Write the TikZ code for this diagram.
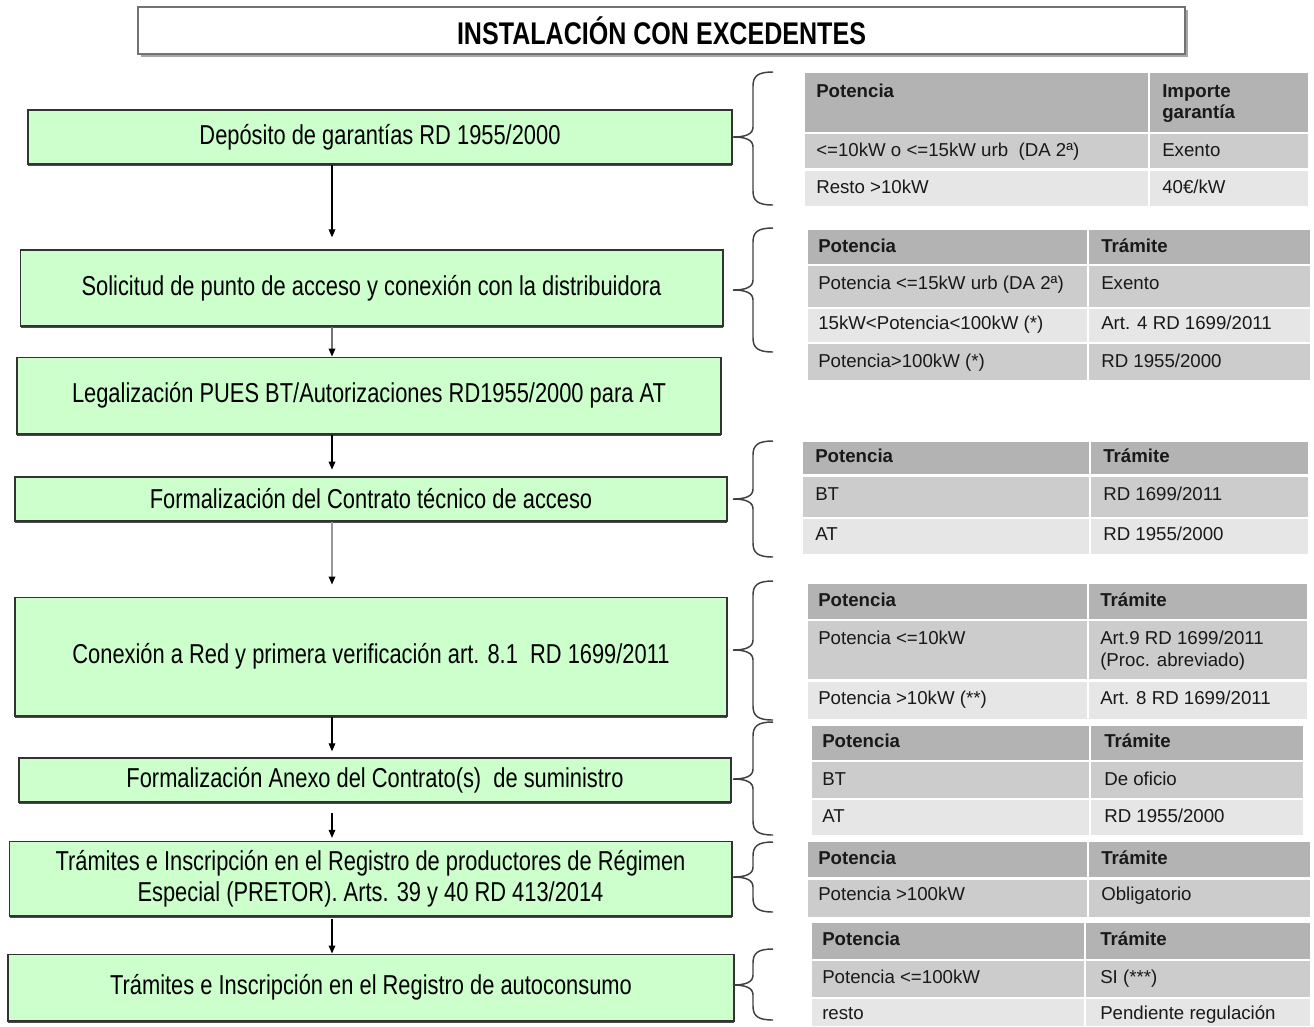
\documentclass[tikz,border=0pt]{standalone}
\usepackage{fontspec}
\setmainfont{Liberation Sans}
\newfontfamily\narrowsf[FakeStretch=0.8]{Liberation Sans}
\newfontfamily\titlesf[FakeStretch=0.8]{Liberation Sans}
\usetikzlibrary{arrows.meta,shadows}

\definecolor{boxgreen}{RGB}{204,255,204}
\definecolor{hdrgray}{RGB}{179,179,179}
\definecolor{rowdark}{RGB}{204,204,204}
\definecolor{rowlight}{RGB}{230,230,230}

% curly brace: top y, bottom y, tip y
\newcommand{\curlybrace}[3]{%
  \draw[brc] (773,#1) .. controls (758,#1) and (753,#1+4) .. (753,#1+14) -- (753,#3-10) .. controls (753,#3-3) and (746,#3) .. (733,#3) .. controls (746,#3) and (753,#3+3) .. (753,#3+10) -- (753,#2-14) .. controls (753,#2-4) and (758,#2) .. (773,#2) ;}

\begin{document}
\begin{tikzpicture}[x=0.75pt,y=0.75pt,yscale=-1,xscale=1,
  titlebox/.style={draw=black!55, line width=1.5pt, fill=white, inner sep=0pt, font=\titlesf\bfseries\fontsize{23.5}{26}\selectfont, drop shadow={shadow xshift=2pt, shadow yshift=-2pt, fill=black!35, opacity=1}},
  stepbox/.style={draw=black!80, line width=1pt, fill=boxgreen, inner sep=2pt, align=center, font=\narrowsf\fontsize{20.5}{23.5}\selectfont, drop shadow={shadow xshift=0.3pt, shadow yshift=-1.5pt, fill=black!70, opacity=1}},
  flow/.style={draw=black, line width=0.9pt, -{Triangle[length=6pt,width=5pt,color=black]}},
  brc/.style={draw=black!75, line width=1.1pt},
  hdr/.style={fill=hdrgray},
  rowa/.style={fill=rowdark},
  rowb/.style={fill=rowlight},
  celltxt/.style={anchor=base west, inner sep=0pt, text=black!90, font=\fontsize{14}{16}\selectfont},
  hdrtxt/.style={celltxt, font=\bfseries\fontsize{14}{16}\selectfont}
]
\useasboundingbox (0,0) rectangle (1314,1026);

% Title
\node[titlebox, minimum width=785pt, minimum height=35pt] (title) at (661.5,30.5) {INSTALACIÓN CON EXCEDENTES};

% Steps
\node[stepbox, minimum width=528pt, minimum height=40.5pt] (dep) at (380,137) {Depósito de garantías RD 1955/2000};
\node[stepbox, minimum width=527pt, minimum height=57pt] (sol) at (371.5,288) {Solicitud de punto de acceso y conexión con la distribuidora};
\node[stepbox, minimum width=528pt, minimum height=57.5pt] (leg) at (369,395.5) {Legalización PUES BT/Autorizaciones RD1955/2000 para AT};
\node[stepbox, minimum width=534pt, minimum height=33pt] (ctec) at (371,499) {Formalización del Contrato técnico de acceso};
\node[stepbox, minimum width=534pt, minimum height=89pt] (con) at (371,656.5) {Conexión a Red y primera verificación art. 8.1\ \ RD 1699/2011};
\node[stepbox, minimum width=534pt, minimum height=33pt] (anx) at (375,780) {Formalización Anexo del Contrato(s)\ \ de suministro};
\node[stepbox, minimum width=542pt, minimum height=56pt] (pretor) at (370.5,878.5) {Trámites e Inscripción en el Registro de productores de Régimen\\Especial (PRETOR). Arts. 39 y 40 RD 413/2014};
\node[stepbox, minimum width=544.5pt, minimum height=50pt] (autoc) at (371,987.5) {Trámites e Inscripción en el Registro de autoconsumo};

% Arrows
\coordinate (ax) at (332,0);
\draw[flow, shorten >=9pt] (dep.south -| ax) -- (sol.north -| ax);
\draw[flow, draw=black!55] (sol.south -| ax) -- (leg.north -| ax);
\draw[flow, shorten >=5pt] (leg.south -| ax) -- (ctec.north -| ax);
\draw[flow, draw=black!40, shorten >=9pt] (ctec.south -| ax) -- (con.north -| ax);
\draw[flow, shorten >=4.5pt] (con.south -| ax) -- (anx.north -| ax);
\draw[flow, shorten <=7.5pt, shorten >=2pt] (anx.south -| ax) -- (pretor.north -| ax);
\draw[flow, shorten <=2pt] (pretor.south -| ax) -- (autoc.north -| ax);

% Braces
\curlybrace{72}{205}{137}
\curlybrace{228}{352}{290}
\curlybrace{441}{557}{499}
\curlybrace{581}{720}{650}
\curlybrace{722}{835}{779}
\curlybrace{842}{912}{877}
\curlybrace{949}{1020}{985}

% Table 1
\fill[hdr] (805,73) rectangle (1148,132);
\fill[hdr] (1150,73) rectangle (1308,132);
\fill[rowa] (805,134) rectangle (1148,168);
\fill[rowa] (1150,134) rectangle (1308,168);
\fill[rowb] (805,171) rectangle (1148,206);
\fill[rowb] (1150,171) rectangle (1308,206);
% Text Node
\node[hdrtxt] (t1h1) at (816,97) {Potencia};
\node[hdrtxt] (t1h2) at (1162,97) {Importe};
\node[hdrtxt] (t1h3) at (1162,118) {garantía};
\node[celltxt] (t1a1) at (816,156) {<=10kW o <=15kW urb\ \ (DA 2ª)};
\node[celltxt] (t1a2) at (1162,156) {Exento};
\node[celltxt] (t1b1) at (816,193) {Resto >10kW};
\node[celltxt] (t1b2) at (1162,193) {40€/kW};

% Table 2
\fill[hdr] (808,230) rectangle (1087,264);
\fill[hdr] (1089,230) rectangle (1310,264);
\fill[rowa] (808,266) rectangle (1087,307);
\fill[rowa] (1089,266) rectangle (1310,307);
\fill[rowb] (808,309) rectangle (1087,342);
\fill[rowb] (1089,309) rectangle (1310,342);
\fill[rowa] (808,344) rectangle (1087,380);
\fill[rowa] (1089,344) rectangle (1310,380);
% Text Node
\node[hdrtxt] (t2h1) at (818,252) {Potencia};
\node[hdrtxt] (t2h2) at (1101,252) {Trámite};
\node[celltxt] (t2a1) at (818,289) {Potencia <=15kW urb (DA 2ª)};
\node[celltxt] (t2a2) at (1101,289) {Exento};
\node[celltxt] (t2b1) at (818,329) {15kW<Potencia<100kW (*)};
\node[celltxt] (t2b2) at (1101,329) {Art. 4 RD 1699/2011};
\node[celltxt] (t2c1) at (818,367) {Potencia>100kW (*)};
\node[celltxt] (t2c2) at (1101,367) {RD 1955/2000};

% Table 3
\fill[hdr] (803,442) rectangle (1089,474);
\fill[hdr] (1091,442) rectangle (1308,474);
\fill[rowa] (803,477) rectangle (1089,517);
\fill[rowa] (1091,477) rectangle (1308,517);
\fill[rowb] (803,519) rectangle (1089,554);
\fill[rowb] (1091,519) rectangle (1308,554);
% Text Node
\node[hdrtxt] (t3h1) at (815,462) {Potencia};
\node[hdrtxt] (t3h2) at (1103,462) {Trámite};
\node[celltxt] (t3a1) at (815,500) {BT};
\node[celltxt] (t3a2) at (1103,500) {RD 1699/2011};
\node[celltxt] (t3b1) at (815,540) {AT};
\node[celltxt] (t3b2) at (1103,540) {RD 1955/2000};

% Table 4
\fill[hdr] (808,584) rectangle (1087,619);
\fill[hdr] (1089,584) rectangle (1307,619);
\fill[rowa] (808,621) rectangle (1087,679);
\fill[rowa] (1089,621) rectangle (1307,679);
\fill[rowb] (808,682) rectangle (1087,719);
\fill[rowb] (1089,682) rectangle (1307,719);
% Text Node
\node[hdrtxt] (t4h1) at (818,606) {Potencia};
\node[hdrtxt] (t4h2) at (1100,606) {Trámite};
\node[celltxt] (t4a1) at (818,644) {Potencia <=10kW};
\node[celltxt] (t4a2) at (1100,644) {Art.9 RD 1699/2011};
\node[celltxt] (t4a3) at (1100,666) {(Proc. abreviado)};
\node[celltxt] (t4b1) at (818,704) {Potencia >10kW (**)};
\node[celltxt] (t4b2) at (1100,704) {Art. 8 RD 1699/2011};

% Table 5
\fill[hdr] (812,726) rectangle (1089,760);
\fill[hdr] (1091,726) rectangle (1303,760);
\fill[rowa] (812,762) rectangle (1089,798);
\fill[rowa] (1091,762) rectangle (1303,798);
\fill[rowb] (812,800) rectangle (1089,835);
\fill[rowb] (1091,800) rectangle (1303,835);
% Text Node
\node[hdrtxt] (t5h1) at (822,747) {Potencia};
\node[hdrtxt] (t5h2) at (1104,747) {Trámite};
\node[celltxt] (t5a1) at (822,785) {BT};
\node[celltxt] (t5a2) at (1104,785) {De oficio};
\node[celltxt] (t5b1) at (822,822) {AT};
\node[celltxt] (t5b2) at (1104,822) {RD 1955/2000};

% Table 6
\fill[hdr] (808,842) rectangle (1087,877);
\fill[hdr] (1089,842) rectangle (1310,877);
\fill[rowa] (808,880) rectangle (1087,917);
\fill[rowa] (1089,880) rectangle (1310,917);
% Text Node
\node[hdrtxt] (t6h1) at (818,864) {Potencia};
\node[hdrtxt] (t6h2) at (1101,864) {Trámite};
\node[celltxt] (t6a1) at (818,900) {Potencia >100kW};
\node[celltxt] (t6a2) at (1101,900) {Obligatorio};

% Table 7
\fill[hdr] (812,923) rectangle (1084,959);
\fill[hdr] (1086,923) rectangle (1310,959);
\fill[rowa] (812,961) rectangle (1084,997);
\fill[rowa] (1086,961) rectangle (1310,997);
\fill[rowb] (812,999) rectangle (1084,1026);
\fill[rowb] (1086,999) rectangle (1310,1026);
% Text Node
\node[hdrtxt] (t7h1) at (822,945) {Potencia};
\node[hdrtxt] (t7h2) at (1100,945) {Trámite};
\node[celltxt] (t7a1) at (822,983) {Potencia <=100kW};
\node[celltxt] (t7a2) at (1100,983) {SI (***)};
\node[celltxt] (t7b1) at (822,1019) {resto};
\node[celltxt] (t7b2) at (1100,1019) {Pendiente regulación};

\end{tikzpicture}
\end{document}
